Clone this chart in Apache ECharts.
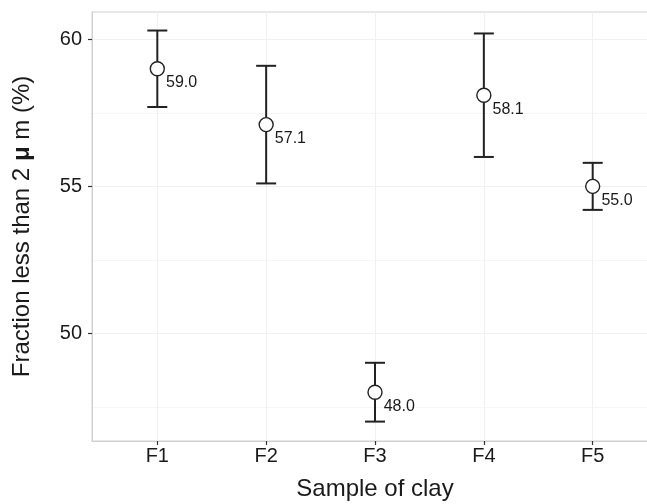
<!DOCTYPE html>
<html>
<head>
<meta charset="utf-8">
<script src="https://cdn.jsdelivr.net/npm/echarts@6/dist/echarts.min.js"></script>
<style>html,body{margin:0;padding:0;background:#fff}#c{width:647px;height:504px}</style>
</head>
<body>
<div id="c"></div>
<script>
const categories = ['F1', 'F2', 'F3', 'F4', 'F5'];
const means = [59.0, 57.1, 48.0, 58.1, 55.0];
const lower = [57.7, 55.1, 47.0, 56.0, 54.2];
const upper = [60.3, 59.1, 49.0, 60.2, 55.8];
const yTicks = [50, 55, 60];
const yMinor = [47.5, 52.5, 57.5];

const positions = categories.map((c, i) => i + 1);
const pointData = categories.map((c, i) => [positions[i], means[i]]);
const barData = categories.map((c, i) => [positions[i], lower[i], upper[i]]);

const font = 'Liberation Sans, Arial, sans-serif';
const chart = echarts.init(document.getElementById('c'));
chart.setOption({
  animation: false,
  backgroundColor: '#ffffff',
  grid: { left: 92, top: 12, width: 566, height: 429, containLabel: false, outerBoundsMode: 'none',
    show: true, borderColor: '#d0d0d0', borderWidth: 1, backgroundColor: 'transparent' },
  xAxis: {
    type: 'value', min: 0.4, max: 5.6,
    name: 'Sample of clay', nameLocation: 'middle', nameGap: 36,
    nameTextStyle: { fontFamily: font, fontSize: 24, color: '#1a1a1a' },
    axisLine: { show: true, lineStyle: { color: '#d0d0d0', width: 1 } },
    axisTick: { show: true, length: 4, lineStyle: { color: '#333', width: 1.2 }, customValues: positions },
    axisLabel: { customValues: positions, margin: 5, fontFamily: font, fontSize: 20, color: '#1a1a1a',
      formatter: v => categories[Math.round(v) - 1] || '' },
    splitLine: { show: true, lineStyle: { color: '#f0f0f0', width: 1 } }
  },
  yAxis: [{
    type: 'value', min: 46.34, max: 60.93,
    name: '{t|Fraction less than 2 }{m|μ}{t| m (%)}', nameLocation: 'middle', nameGap: 58,
    nameTextStyle: { fontFamily: font, fontSize: 24, color: '#1a1a1a',
      rich: { t: { fontFamily: font, fontSize: 24, color: '#1a1a1a' }, m: { fontFamily: font, fontSize: 24, fontWeight: 'bold', color: '#1a1a1a' } } },
    axisLine: { show: true, lineStyle: { color: '#d0d0d0', width: 1 } },
    axisTick: { show: true, length: 4, lineStyle: { color: '#333', width: 1.2 }, customValues: yTicks },
    axisLabel: { customValues: yTicks, margin: 10, fontFamily: font, fontSize: 20, color: '#1a1a1a' },
    splitLine: { show: true, lineStyle: { color: '#f0f0f0', width: 1 } }
  }, {
    type: 'value', min: 46.34, max: 60.93, position: 'left',
    axisLine: { show: false }, axisLabel: { show: false, customValues: yMinor },
    axisTick: { show: false, customValues: yMinor },
    splitLine: { show: true, lineStyle: { color: '#f6f6f6', width: 1 } }
  }],
  series: [{
    type: 'custom',
    data: barData,
    encode: { x: 0, y: [1, 2] },
    z: 2,
    renderItem: function (params, api) {
      const x = api.value(0);
      const lo = api.coord([x, api.value(1)]);
      const hi = api.coord([x, api.value(2)]);
      const hw = 10;
      const style = { stroke: '#222', lineWidth: 2, fill: null };
      return { type: 'group', children: [
        { type: 'line', shape: { x1: lo[0], y1: lo[1], x2: hi[0], y2: hi[1] }, style },
        { type: 'line', shape: { x1: lo[0] - hw, y1: lo[1], x2: lo[0] + hw, y2: lo[1] }, style },
        { type: 'line', shape: { x1: hi[0] - hw, y1: hi[1], x2: hi[0] + hw, y2: hi[1] }, style }
      ]};
    }
  }, {
    type: 'scatter',
    data: pointData,
    z: 3,
    symbol: 'circle', symbolSize: 14,
    itemStyle: { color: '#ffffff', borderColor: '#222', borderWidth: 1.4, opacity: 1 },
    label: { show: true, position: 'right', distance: 1, offset: [0, 14],
      fontFamily: font, fontSize: 16, color: '#1a1a1a',
      formatter: p => p.value[1].toFixed(1) }
  }]
});
</script>
</body>
</html>
